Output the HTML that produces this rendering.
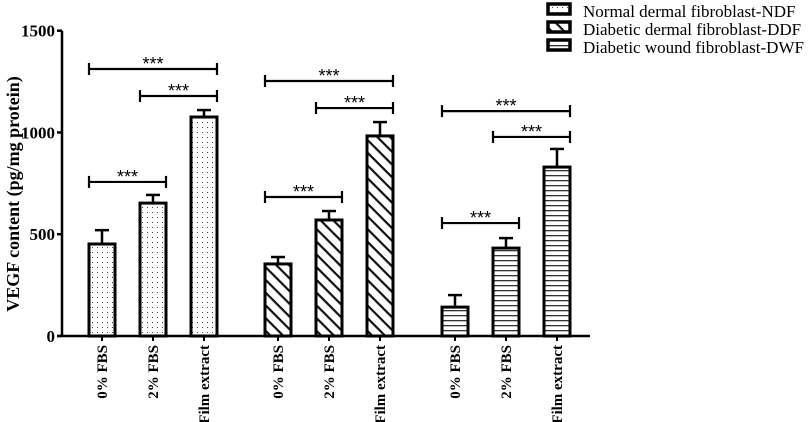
<!DOCTYPE html>
<html><head><meta charset="utf-8"><style>
body{margin:0;background:#fff}
svg{display:block;font-family:"Liberation Serif",serif}
</style></head><body>
<svg id="c" width="810" height="422" viewBox="0 0 810 422">
<defs>
<pattern id="pDots" width="5" height="5" patternUnits="userSpaceOnUse"><rect width="5" height="5" fill="#fff"/><rect x="2" y="2" width="1" height="1" fill="#444"/></pattern>
<pattern id="pDiag" width="9" height="9" patternUnits="userSpaceOnUse" patternTransform="rotate(45)"><rect width="9" height="9" fill="#fff"/><rect x="0" y="0" width="9" height="2.2" fill="#111"/></pattern>
<pattern id="pHoriz" width="6" height="5" patternUnits="userSpaceOnUse"><rect width="6" height="5" fill="#fff"/><rect x="0" y="0" width="6" height="1.3" fill="#333"/></pattern>
</defs>
<g id="plot"></g>
<g id="legend">
<g><rect x="548" y="4" width="22" height="10" fill="url(#pDots)" stroke="#000" stroke-width="3.5"/><text x="583" y="17" font-size="17">Normal dermal fibroblast-NDF</text></g>
<g><rect x="548" y="22" width="22" height="10" fill="url(#pDiag)" stroke="#000" stroke-width="3.5"/><text x="583" y="35" font-size="17">Diabetic dermal fibroblast-DDF</text></g>
<g><rect x="548" y="40" width="22" height="10" fill="url(#pHoriz)" stroke="#000" stroke-width="3.5"/><text x="583" y="53" font-size="17">Diabetic wound fibroblast-DWF</text></g>
</g>
</svg>
<script>
const categories = ["0% FBS","2% FBS","Film extract"];
const groups = ["NDF","DDF","DWF"];
const ndfValues = [452, 653, 1076];
const ndfErrors = [68, 40, 34];
const ddfValues = [354, 570, 983];
const ddfErrors = [34, 44, 68];
const dwfValues = [142, 432, 830];
const dwfErrors = [59, 49, 89];
const bracketNdf = [1312, 1179, 757];
const bracketDdf = [1253, 1120, 683];
const bracketDwf = [1105, 978, 555];
const yTicks = [0, 500, 1000, 1500];

const NS="http://www.w3.org/2000/svg";
const plot=document.getElementById('plot');
const y0=336, yTop=30.7, yMax=1500;
const y=v=>y0-(v/yMax)*(y0-yTop);
const groupStart=[102,278,455], step=51, bw=26;
const x=(g,i)=>groupStart[g]+i*step;
function mk(t,a,p){const e=document.createElementNS(NS,t);for(const k in a)e.setAttribute(k,a[k]);(p||plot).appendChild(e);return e;}

let ax=mk('line',{x1:62,y1:y0,x2:62,y2:yTop,stroke:'#000','stroke-width':2.5});


let bx=mk('line',{x1:57,y1:y0,x2:590,y2:y0,stroke:'#000','stroke-width':2.5});


yTicks.forEach(t=>{
  const tk=mk('line',{x1:57,y1:y(t),x2:62,y2:y(t),stroke:'#000','stroke-width':2.5});
  
  
  const tl=mk('text',{x:55,y:y(t)+6,'text-anchor':'end','font-size':17,'font-weight':'bold'});
  tl.textContent=t;
  
  
});
const yt=mk('text',{x:0,y:0,'text-anchor':'middle','font-size':18,'font-weight':'bold',transform:'translate(19,194) rotate(-90)'});
yt.textContent='VEGF content (pg/mg protein)';



const vals=[ndfValues,ddfValues,dwfValues], errs=[ndfErrors,ddfErrors,dwfErrors];
const brs=[bracketNdf,bracketDdf,bracketDwf];
const fills=['url(#pDots)','url(#pDiag)','url(#pHoriz)'];
for(let g=0;g<3;g++){
  for(let i=0;i<3;i++){
    const cx=x(g,i), v=vals[g][i], e=errs[g][i];
    const ey=mk('line',{x1:cx,y1:y(v),x2:cx,y2:y(v+e),stroke:'#000','stroke-width':2.5});
    
    
    const ec=mk('line',{x1:cx-7,y1:y(v+e),x2:cx+7,y2:y(v+e),stroke:'#000','stroke-width':2.5});
    
    
    const r=mk('rect',{x:cx-bw/2,y:y(v),width:bw,height:y0-y(v),fill:fills[g],stroke:'#000','stroke-width':3});
    
    
    const xt=mk('line',{x1:cx,y1:y0,x2:cx,y2:y0+5,stroke:'#000','stroke-width':2});
    
    
    const lb=mk('text',{x:0,y:0,'text-anchor':'end','font-size':15,'font-weight':'bold',transform:`translate(${cx+5},${y0+9}) rotate(-90)`});
    lb.textContent=categories[i];
    
    
  }
  const pairs=[[0,2],[1,2],[0,1]];
  pairs.forEach((p,k)=>{
    const by=y(brs[g][k]);
    const xa=x(g,p[0])-bw/2, xb=x(g,p[1])+bw/2;
    const gp=mk('g',{});
    
    
    mk('line',{x1:xa,y1:by,x2:xb,y2:by,stroke:'#000','stroke-width':2.2},gp);
    mk('line',{x1:xa,y1:by-6,x2:xa,y2:by+6,stroke:'#000','stroke-width':2.2},gp);
    mk('line',{x1:xb,y1:by-6,x2:xb,y2:by+6,stroke:'#000','stroke-width':2.2},gp);
    const st=mk('text',{x:(xa+xb)/2,y:by+1,'text-anchor':'middle','font-size':18,'font-family':'Liberation Sans, sans-serif'},gp);
    st.textContent='***';
  });
}
</script>
</body></html>
